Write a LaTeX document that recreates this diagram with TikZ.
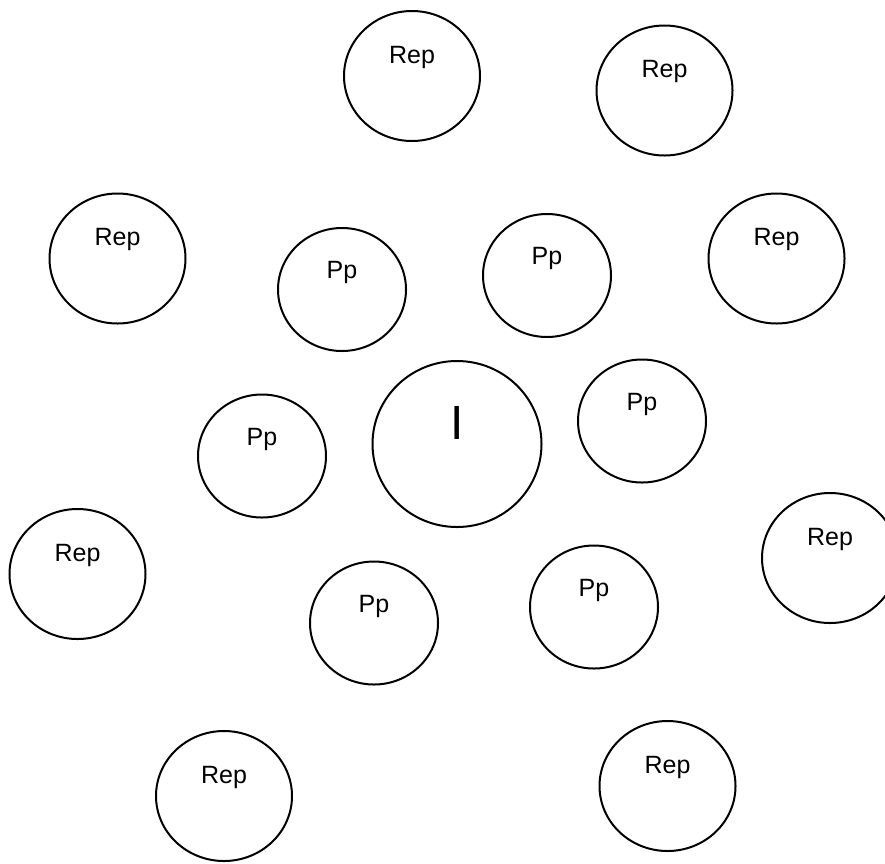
\documentclass[tikz,border=0pt]{standalone}
\usepackage{fontspec}
\setmainfont{Liberation Sans}
\usetikzlibrary{shapes.geometric}
\begin{document}
\begin{tikzpicture}[x=1pt,y=-1pt,
  rep/.style={ellipse,draw,line width=2pt,minimum width=136pt,minimum height=130pt,inner sep=0pt},
  pp/.style={ellipse,draw,line width=2pt,minimum width=128pt,minimum height=123pt,inner sep=0pt},
  inode/.style={ellipse,draw,line width=2pt,minimum width=169pt,minimum height=166pt,inner sep=0pt},
  lbl/.style={anchor=base,inner sep=0pt,font=\fontsize{25}{28}\selectfont},
  biglbl/.style={anchor=base,inner sep=0pt,font=\fontsize{48}{50}\selectfont}]
\useasboundingbox[fill=white] (0,0) rectangle (885,863);
% Rep circles
\node[rep] (r1) at (412,76) {};
\node[rep] (r2) at (664.5,90.5) {};
\node[rep] (r3) at (117.5,258.5) {};
\node[rep] (r4) at (776.5,258.5) {};
\node[rep] (r5) at (77.5,574) {};
\node[rep] (r6) at (830,558) {};
\node[rep] (r7) at (224,796) {};
\node[rep] (r8) at (667.5,786) {};
\foreach \n in {r1,r2,r3,r4,r5,r6,r7,r8}
  \node[lbl] (\n t) at ([yshift=13pt]\n.center) {Rep};
% Pp circles
\node[pp] (p1) at (342,289.5) {};
\node[pp] (p2) at (547,275.5) {};
\node[pp] (p3) at (642,421) {};
\node[pp] (p4) at (262,456) {};
\node[pp] (p5) at (374,623) {};
\node[pp] (p6) at (594,607) {};
\foreach \n in {p1,p2,p3,p4,p5,p6}
  \node[lbl] (\n t) at ([yshift=11pt]\n.center) {Pp};
% I circle
\node[inode] (i) at (457,444) {};
\node[biglbl] (it) at ([yshift=5pt]i.center) {I};
\end{tikzpicture}
\end{document}
